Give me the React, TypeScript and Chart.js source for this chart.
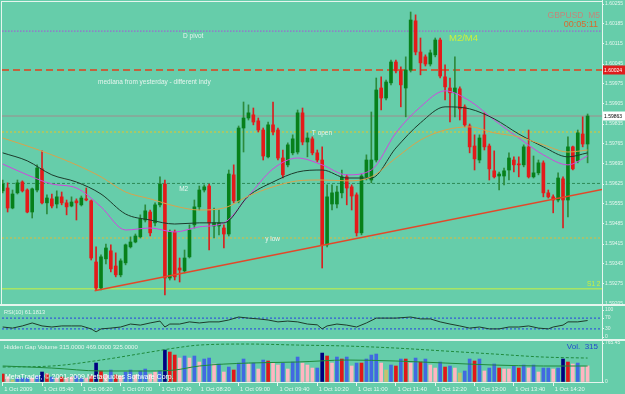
import React, { useEffect, useRef } from "react";
import { Chart, registerables } from "chart.js";

Chart.register(...registerables);

// ---------------- data ----------------
const timeLabels = [
  "1 Oct 2009", "1 Oct 05:40", "1 Oct 06:20", "1 Oct 07:00", "1 Oct 07:40",
  "1 Oct 08:20", "1 Oct 09:00", "1 Oct 09:40", "1 Oct 10:20", "1 Oct 11:00",
  "1 Oct 11:40", "1 Oct 12:20", "1 Oct 13:00", "1 Oct 13:40", "1 Oct 14:20",
];
const timeTickBars = [0, 8, 16, 24, 32, 40, 48, 56, 64, 72, 80, 88, 96, 104, 112];

const priceTicks = [
  1.60255, 1.60185, 1.60115, 1.60045, 1.59975, 1.59905, 1.59835, 1.59765,
  1.59695, 1.59625, 1.59555, 1.59485, 1.59415, 1.59345, 1.59275, 1.59205,
];

const open = [
  1.59601, 1.59611, 1.59541, 1.59594, 1.59632, 1.59604, 1.59527, 1.59604, 1.59678, 1.59559,
  1.59573, 1.59555, 1.5958, 1.59559, 1.59548, 1.59566, 1.59552, 1.59573, 1.59566, 1.59352,
  1.59261, 1.59363, 1.59391, 1.59338, 1.59307, 1.59349, 1.59405, 1.59422, 1.5944, 1.59499,
  1.59527, 1.59489, 1.59552, 1.59625, 1.59296, 1.59457, 1.59331, 1.59321, 1.5937, 1.59482,
  1.59545, 1.59604, 1.59618, 1.59478, 1.59478, 1.59471, 1.5945, 1.59657, 1.59566, 1.59821,
  1.59856, 1.59867, 1.59846, 1.59814, 1.5972, 1.59832, 1.59814, 1.59716, 1.59692, 1.59734,
  1.59737, 1.59874, 1.59772, 1.59783, 1.59734, 1.59709, 1.59412, 1.59555, 1.59555, 1.59594,
  1.5965, 1.59615, 1.59587, 1.59454, 1.5965, 1.59639, 1.59709, 1.59961, 1.59926, 1.59979,
  1.60052, 1.60021, 1.59961, 1.60024, 1.60196, 1.60087, 1.6007, 1.60045, 1.60077, 1.60129,
  1.6, 1.59961, 1.59944, 1.59958, 1.59895, 1.59828, 1.59758, 1.59709, 1.59797, 1.59758,
  1.59671, 1.59653, 1.59653, 1.59674, 1.59709, 1.59695, 1.59692, 1.59755, 1.5965, 1.59664,
  1.59699, 1.59594, 1.5958, 1.59569, 1.59643, 1.59569, 1.59755, 1.59706, 1.598, 1.59765,
];
const high = [
  1.59639, 1.59629, 1.59604, 1.59639, 1.59636, 1.59608, 1.59611, 1.59692, 1.59741, 1.59587,
  1.5959, 1.59601, 1.59597, 1.59569, 1.5958, 1.59573, 1.59583, 1.59611, 1.59569, 1.59405,
  1.59377, 1.59415, 1.59412, 1.59384, 1.59363, 1.59415, 1.5944, 1.5945, 1.59517, 1.59552,
  1.59534, 1.59559, 1.5965, 1.59639, 1.59464, 1.59464, 1.59366, 1.59394, 1.59482, 1.59569,
  1.59618, 1.59622, 1.59625, 1.59541, 1.59534, 1.59482, 1.59674, 1.59692, 1.59828, 1.59912,
  1.59902, 1.59891, 1.59856, 1.59821, 1.59842, 1.59912, 1.59821, 1.59744, 1.59769, 1.59797,
  1.59884, 1.59891, 1.59804, 1.5979, 1.59744, 1.59755, 1.59622, 1.59622, 1.59618, 1.59674,
  1.59657, 1.59622, 1.59594, 1.5966, 1.59727, 1.59877, 1.59996, 1.6, 1.59989, 1.60059,
  1.60059, 1.60035, 1.6007, 1.60227, 1.60217, 1.60136, 1.60077, 1.60094, 1.60136, 1.60136,
  1.60042, 1.59996, 1.6007, 1.59965, 1.59902, 1.59835, 1.59797, 1.59797, 1.59874, 1.59765,
  1.59741, 1.59667, 1.59681, 1.59734, 1.5972, 1.5972, 1.59762, 1.59814, 1.59723, 1.59709,
  1.59706, 1.59604, 1.59587, 1.59664, 1.5965, 1.5979, 1.59758, 1.59814, 1.5986, 1.5987,
];
const low = [
  1.59594, 1.59527, 1.59538, 1.5959, 1.59597, 1.59524, 1.59506, 1.59597, 1.59555, 1.5952,
  1.59541, 1.59541, 1.59552, 1.59517, 1.59545, 1.59499, 1.59548, 1.59566, 1.59359, 1.59254,
  1.59254, 1.59345, 1.59317, 1.593, 1.593, 1.59342, 1.59401, 1.59419, 1.59436, 1.59492,
  1.59443, 1.59478, 1.59545, 1.59237, 1.59289, 1.59289, 1.59282, 1.59314, 1.59366, 1.59471,
  1.59534, 1.59597, 1.59394, 1.59436, 1.59447, 1.59401, 1.59443, 1.59559, 1.59559, 1.59737,
  1.59849, 1.59832, 1.59807, 1.59709, 1.59716, 1.59797, 1.59709, 1.59646, 1.59685, 1.59727,
  1.5973, 1.59762, 1.5972, 1.59727, 1.59702, 1.59331, 1.59405, 1.59534, 1.59541, 1.59576,
  1.59552, 1.59534, 1.59443, 1.59447, 1.59639, 1.59629, 1.59702, 1.59884, 1.59919, 1.59972,
  1.60014, 1.59895, 1.5986, 1.60017, 1.60077, 1.60007, 1.60038, 1.60038, 1.6007, 1.59996,
  1.59919, 1.59842, 1.5986, 1.59849, 1.59825, 1.59734, 1.59674, 1.59699, 1.59744, 1.59639,
  1.59646, 1.59604, 1.59622, 1.59639, 1.59667, 1.5965, 1.59685, 1.59646, 1.59646, 1.59657,
  1.5958, 1.59576, 1.59524, 1.59562, 1.59471, 1.5951, 1.59674, 1.59699, 1.59755, 1.59699,
];
const close = [
  1.59625, 1.59541, 1.5959, 1.59629, 1.59601, 1.59527, 1.59608, 1.59681, 1.59559, 1.59576,
  1.59548, 1.5958, 1.59559, 1.59545, 1.59562, 1.59559, 1.59576, 1.59569, 1.59366, 1.59261,
  1.5937, 1.59401, 1.59328, 1.59307, 1.59356, 1.59412, 1.59422, 1.59443, 1.59503, 1.59531,
  1.59454, 1.59552, 1.59625, 1.59296, 1.59457, 1.593, 1.59324, 1.59366, 1.59464, 1.59545,
  1.59604, 1.59615, 1.59489, 1.59489, 1.59489, 1.5945, 1.5966, 1.59566, 1.59821, 1.59856,
  1.59874, 1.59842, 1.59814, 1.59723, 1.59832, 1.59807, 1.59716, 1.59657, 1.59762, 1.59783,
  1.59874, 1.59772, 1.59786, 1.59734, 1.59709, 1.59412, 1.5958, 1.59594, 1.59597, 1.5965,
  1.59611, 1.59583, 1.59454, 1.59653, 1.59709, 1.59709, 1.59954, 1.59926, 1.59982, 1.60052,
  1.60021, 1.59972, 1.60024, 1.60199, 1.60087, 1.60049, 1.60045, 1.60084, 1.60129, 1.60003,
  1.59965, 1.59944, 1.59961, 1.59888, 1.59832, 1.59755, 1.59713, 1.59786, 1.59755, 1.59678,
  1.5965, 1.5966, 1.59671, 1.59716, 1.59692, 1.59692, 1.59755, 1.5965, 1.59664, 1.59699,
  1.59594, 1.5958, 1.59569, 1.59646, 1.59569, 1.59755, 1.59678, 1.59804, 1.59765, 1.59863,
];

const maBars = [0, 5, 10, 15, 20, 25, 30, 35, 40, 45, 50, 55, 60, 65, 70, 75, 80, 85, 90, 95, 100, 105, 110, 115, 119];
const maOrange = [
  1.59786, 1.59758, 1.59727, 1.59692, 1.5965, 1.59597, 1.59573, 1.59548, 1.59534, 1.59541,
  1.59583, 1.59615, 1.59636, 1.59639, 1.59636, 1.5965, 1.59716, 1.59779, 1.59814, 1.59825,
  1.59804, 1.5979, 1.59762, 1.59737, 1.59744,
];
const maDark = [
  1.59734, 1.59706, 1.59657, 1.59632, 1.5959, 1.5952, 1.59499, 1.59485, 1.59489, 1.59489,
  1.59583, 1.59632, 1.59667, 1.59674, 1.59646, 1.59646, 1.59751, 1.59839, 1.59895, 1.59888,
  1.59853, 1.598, 1.59755, 1.5972, 1.59734,
];
const maMagenta = [
  1.59695, 1.59657, 1.59625, 1.59611, 1.59545, 1.59464, 1.59471, 1.59457, 1.59475, 1.59489,
  1.59583, 1.59678, 1.59716, 1.59692, 1.59657, 1.59674, 1.59804, 1.59895, 1.59951, 1.59916,
  1.59849, 1.59786, 1.59727, 1.59692, 1.59723,
];

const dPivot = 1.6016;
const medianYesterday = 1.60024;
const bidPrice = 1.59863;
const tOpen = 1.59807;
const m2Level = 1.59627;
const yLow = 1.59436;
const s1Level = 1.59258;
const trendBars = [18.7, 122];
const trendPrices = [1.59251, 1.59606];

const rsiBars = [
  0, 2, 4, 6, 8, 10, 12, 14, 16, 18, 19, 20, 22, 24, 26, 28, 30, 32, 33, 34,
  36, 38, 40, 42, 44, 46, 48, 50, 52, 54, 56, 58, 60, 62, 64, 65, 66, 68, 70, 72,
  74, 76, 78, 80, 83, 85, 87, 89, 91, 93, 95, 97, 99, 101, 103, 105, 107, 109, 111, 112,
  114, 115, 117, 119,
];
const rsiValues = [
  37, 33, 41, 52, 41, 37, 41, 41, 41, 30, 19, 30, 33, 37, 48, 44, 52, 59, 37, 48,
  48, 56, 52, 56, 56, 63, 74, 70, 67, 63, 56, 59, 56, 48, 45, 30, 41, 48, 44, 37,
  52, 70, 70, 70, 74, 67, 67, 56, 48, 41, 33, 37, 30, 30, 37, 37, 41, 33, 30, 37,
  44, 56, 56, 61,
];
const rsiLevels = [70, 30];

const volume = [
  157, 98, 39, 78, 78, 78, 78, 118, 196, 157, 98, 78, 98, 78, 98, 118, 78, 78, 118, 372,
  216, 137, 235, 137, 118, 196, 235, 137, 216, 255, 157, 196, 216, 627, 588, 529, 470, 510, 470, 510,
  392, 451, 470, 353, 353, 196, 294, 235, 372, 451, 353, 372, 255, 431, 412, 372, 333, 372, 255, 392,
  490, 372, 333, 274, 274, 568, 510, 372, 490, 451, 490, 314, 372, 372, 451, 529, 549, 372, 235, 333,
  314, 451, 451, 372, 470, 392, 451, 333, 274, 392, 294, 314, 274, 176, 216, 451, 412, 451, 216, 274,
  353, 274, 255, 255, 314, 274, 333, 274, 333, 196, 274, 274, 255, 274, 451, 392, 353, 372, 300, 315,
];
const volumeKind = [
  "r", "p", "k", "b", "b", "b", "p", "b", "n", "r", "b", "p", "r", "p", "p", "b", "b", "p", "r", "n",
  "r", "p", "b", "r", "p", "b", "b", "p", "b", "b", "p", "p", "b", "n", "r", "r", "p", "b", "p", "b",
  "p", "b", "b", "p", "b", "p", "b", "r", "b", "b", "p", "b", "p", "b", "r", "p", "p", "b", "p", "b",
  "b", "p", "p", "p", "b", "n", "r", "p", "b", "r", "b", "p", "b", "r", "b", "b", "b", "p", "k", "b",
  "r", "b", "r", "p", "b", "r", "b", "p", "p", "b", "r", "b", "p", "k", "b", "b", "r", "b", "p", "b",
  "b", "r", "p", "p", "b", "r", "b", "p", "b", "p", "b", "b", "p", "b", "n", "r", "p", "b", "p", "p",
];
const volLineBars = [0, 10, 20, 30, 35, 40, 50, 60, 70, 80, 90, 100, 110, 119];
const volDashed = [294, 314, 431, 588, 666, 725, 745, 725, 706, 666, 608, 549, 490, 470];
const volSolid = [314, 274, 216, 216, 235, 314, 372, 392, 431, 412, 372, 333, 314, 314];
const volMax = 765.45;

// ---------------- styling ----------------
const FONT = "'Liberation Sans', Arial, sans-serif";
const BG = "#66cdaa";
const LIGHT = "#e6f5ee";
const X_MIN = -0.142;
const X_MAX = 121.93;
const VOL_COLORS: Record<string, string> = {
  b: "#4169e1",
  r: "#e01818",
  p: "#ffb6c1",
  n: "#000080",
  k: "#c8c070",
};

function txt(ctx: any, s: string, x: number, y: number, color: string, size: number, align = "left", weight = "normal") {
  ctx.font = `${weight} ${size}px ${FONT}`;
  ctx.fillStyle = color;
  ctx.textAlign = align;
  ctx.textBaseline = "middle";
  ctx.fillText(s, x, y);
}

function hiddenX() {
  return { type: "linear", min: X_MIN, max: X_MAX, offset: false, display: false, grid: { offset: false } };
}

function rightAxis(min: number, max: number, values: number[], fmt: (v: number) => string) {
  return {
    type: "linear",
    position: "right",
    min,
    max,
    afterBuildTicks: (s: any) => {
      s.ticks = values.map((v) => ({ value: v }));
    },
    afterFit: (s: any) => {
      s.width = 23;
      s.paddingTop = 0;
      s.paddingBottom = 0;
    },
    ticks: {
      callback: (v: any) => fmt(Number(v)),
      color: LIGHT,
      font: { size: 5, family: FONT },
      padding: 1,
      autoSkip: false,
    },
    grid: { drawOnChartArea: false, drawTicks: true, tickLength: 2, color: LIGHT },
    border: { display: true, color: LIGHT },
  };
}

function hline(price: number, color: string, dash: number[], width = 1) {
  return {
    type: "line",
    data: [
      { x: X_MIN, y: price },
      { x: X_MAX, y: price },
    ],
    borderColor: color,
    borderWidth: width,
    borderDash: dash,
    pointRadius: 0,
    order: 10,
  };
}

function seriesLine(bars: number[], vals: number[], color: string, order: number, extra: any = {}) {
  return {
    type: "line",
    data: bars.map((b, i) => ({ x: b, y: vals[i] })),
    borderColor: color,
    borderWidth: 1,
    pointRadius: 0,
    cubicInterpolationMode: "monotone",
    order,
    ...extra,
  };
}

const baseOptions = {
  responsive: false,
  animation: false,
  events: [],
  devicePixelRatio: 1,
  plugins: { legend: { display: false }, tooltip: { enabled: false } },
};

const notes = [
  { text: "D pivot", bar: 36.7, price: dPivot, dy: 5, color: LIGHT, size: 6.5 },
  { text: "mediana from yesterday - different indy", bar: 19.4, price: medianYesterday, dy: 12, color: LIGHT, size: 6.5 },
  { text: "T open", bar: 62.9, price: tOpen, dy: 1, color: LIGHT, size: 6.5 },
  { text: "M2", bar: 35.9, price: m2Level, dy: 6, color: LIGHT, size: 6.5 },
  { text: "y low", bar: 53.4, price: yLow, dy: 1, color: LIGHT, size: 6.5 },
  { text: "M2/M4", bar: 90.8, price: dPivot, dy: 7, color: "#ccf03c", size: 9.5 },
  { text: "S1 2", bar: 118.9, price: s1Level, dy: -5, color: "#ccf03c", size: 6.5 },
];

function priceBox(ctx: any, ys: any, price: number, bg: string, fg: string) {
  const y = ys.getPixelForValue(price);
  ctx.fillStyle = bg;
  ctx.fillRect(603, y - 4.5, 22, 9);
  txt(ctx, price.toFixed(5), 604, y + 0.5, fg, 5);
}

const mainPlugin = {
  id: "mainNotes",
  afterDraw(chart: any) {
    const { ctx, scales } = chart;
    const xs = scales.x;
    const ys = scales.y;
    ctx.save();
    for (const n of notes) {
      txt(ctx, n.text, xs.getPixelForValue(n.bar), ys.getPixelForValue(n.price) + n.dy, n.color, n.size);
    }
    txt(ctx, "GBPUSD  M5", 600, 16, "#c4867a", 8.5, "right");
    txt(ctx, "00:05:11", 598, 25, "#d86a2e", 9, "right");
    priceBox(ctx, ys, medianYesterday, "#e01c1c", "#ffffff");
    priceBox(ctx, ys, bidPrice, "#ffffff", "#000000");
    ctx.restore();
  },
};

function makeMain() {
  const up = close.map((c, i) => c >= open[i]);
  return {
    type: "bar",
    data: {
      datasets: [
        hline(dPivot, "#9a6ad0", [1.5, 1.5], 1.3),
        hline(medianYesterday, "#e2401c", [7, 4], 1.5),
        hline(bidPrice, "#a08c8c", []),
        hline(tOpen, "#e8c426", [2, 2]),
        hline(m2Level, "#2e8a56", [3, 2]),
        hline(yLow, "#e2b83a", [2, 2]),
        hline(s1Level, "#ccf040", []),
        {
          type: "bar",
          data: open.map((_, i) => ({ x: i, y: [low[i], high[i]] })),
          backgroundColor: up.map((u) => (u ? "#2c8a3c" : "#d82020")),
          barThickness: 1,
          grouped: false,
          borderWidth: 0,
          order: 6,
        },
        {
          type: "bar",
          data: open.map((o, i) => ({ x: i, y: [o, close[i]] })),
          backgroundColor: up.map((u) => (u ? "#07801a" : "#e41a1a")),
          barThickness: 3,
          minBarLength: 1,
          grouped: false,
          borderWidth: 0,
          order: 5,
        },
        seriesLine(maBars, maOrange, "#d9a24c", 3),
        seriesLine(maBars, maDark, "#1d3a2b", 3),
        seriesLine(maBars, maMagenta, "#d046de", 3),
        seriesLine(trendBars, trendPrices, "#e2482a", 2, { borderWidth: 1.5, cubicInterpolationMode: "default" }),
      ],
    },
    options: {
      ...baseOptions,
      layout: { padding: { top: 2, bottom: 1, left: 2, right: 0 } },
      scales: {
        x: hiddenX(),
        y: rightAxis(1.59205, 1.60262, priceTicks, (v) => v.toFixed(5)),
      },
    },
    plugins: [mainPlugin],
  };
}

const rsiPlugin = {
  id: "rsiNotes",
  afterDraw(chart: any) {
    const ctx = chart.ctx;
    ctx.save();
    txt(ctx, "RSI(10) 61.1813", 4, 6, LIGHT, 5.6);
    ctx.restore();
  },
};

function makeRsi() {
  return {
    type: "line",
    data: {
      datasets: [
        ...rsiLevels.map((lv) => ({ ...hline(lv, "#2a40e0", [2, 2]) })),
        seriesLine(rsiBars, rsiValues, "#1e3b2a", 1, { cubicInterpolationMode: "default" }),
      ],
    },
    options: {
      ...baseOptions,
      layout: { padding: { top: 4, bottom: 2, left: 2, right: 0 } },
      scales: {
        x: hiddenX(),
        y: rightAxis(0, 100, [0, 30, 70, 100], (v) => String(v)),
      },
    },
    plugins: [rsiPlugin],
  };
}

const volPlugin = {
  id: "volNotes",
  afterDraw(chart: any) {
    const ctx = chart.ctx;
    ctx.save();
    txt(ctx, "Hidden Gap Volume 315.0000 469.0000 325.0000", 4, 6, LIGHT, 6);
    txt(ctx, "Vol.  315", 598, 6, "#2448cc", 8, "right");
    txt(ctx, "MetaTrader, \u00a9 2001-2009 MetaQuotes Software Corp.", 5, 36, "#ffffff", 7);
    ctx.restore();
  },
};

function makeVol() {
  return {
    type: "bar",
    data: {
      datasets: [
        {
          type: "bar",
          data: volume.map((v, i) => ({ x: i, y: v })),
          backgroundColor: volumeKind.map((k) => VOL_COLORS[k]),
          barThickness: 3,
          grouped: false,
          borderWidth: 0,
          order: 5,
        },
        seriesLine(volLineBars, volDashed, "#1f8a3c", 2, { borderDash: [3, 2] }),
        seriesLine(volLineBars, volSolid, "#1f8a3c", 2),
      ],
    },
    options: {
      ...baseOptions,
      layout: { padding: { top: 2, bottom: 0, left: 2, right: 0 } },
      scales: {
        x: {
          type: "linear",
          min: X_MIN,
          max: X_MAX,
          offset: false,
          position: "bottom",
          afterBuildTicks: (s: any) => {
            s.ticks = timeTickBars.map((v) => ({ value: v }));
          },
          afterFit: (s: any) => {
            s.height = 12;
            s.paddingLeft = 0;
            s.paddingRight = 0;
          },
          ticks: {
            callback: (_v: any, i: number) => timeLabels[i],
            align: "start",
            color: LIGHT,
            font: { size: 5.8, family: FONT },
            padding: 0,
            autoSkip: false,
            maxRotation: 0,
            minRotation: 0,
            labelOffset: 1.5,
          },
          grid: { drawOnChartArea: false, drawTicks: true, tickLength: 4, color: LIGHT, offset: false },
          border: { display: true, color: LIGHT },
        },
        y: rightAxis(0, volMax, [0, volMax], (v) => (v === 0 ? "0" : volMax.toFixed(2))),
      },
    },
    plugins: [volPlugin],
  };
}

function Panel({ top, height, make }: { top: number; height: number; make: () => any }) {
  const ref = useRef<HTMLCanvasElement | null>(null);
  useEffect(() => {
    const chart = new Chart(ref.current as HTMLCanvasElement, make() as any);
    return () => chart.destroy();
  }, [make]);
  return (
    <canvas
      ref={ref}
      width={625}
      height={height}
      style={{ position: "absolute", left: 0, top, width: 625, height, display: "block" }}
    />
  );
}

function Line({ left, top, width, height }: { left: number; top: number; width: number; height: number }) {
  return <div style={{ position: "absolute", left, top, width, height, background: LIGHT, pointerEvents: "none" }} />;
}

export default function App() {
  return (
    <div
      style={{
        position: "fixed",
        left: 0,
        top: 0,
        width: 625,
        height: 394,
        background: BG,
        overflow: "hidden",
      }}
    >
      <Panel top={0} height={305} make={makeMain} />
      <Panel top={306} height={33} make={makeRsi} />
      <Panel top={341} height={53} make={makeVol} />
      <Line left={1} top={1} width={602} height={1} />
      <Line left={1} top={1} width={1} height={303} />
      <Line left={602} top={0} width={1} height={383} />
      <Line left={0} top={304} width={625} height={2} />
      <Line left={0} top={339} width={625} height={2} />
    </div>
  );
}
